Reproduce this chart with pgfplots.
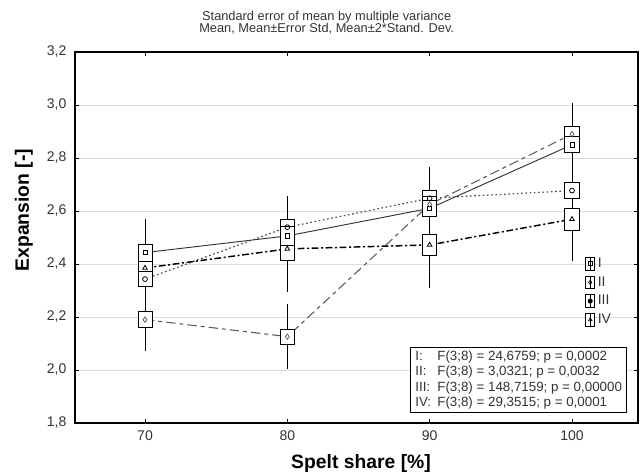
\documentclass[border=0pt]{standalone}
\usepackage{pgfplots}
\pgfplotsset{compat=1.18}
\usepackage{pgfplotstable}
\usepackage{fontspec}
\setmainfont{Liberation Sans}

\definecolor{gridc}{HTML}{DCDCDC}
\definecolor{txtc}{HTML}{333333}

% x = spelt share, m = mean, d = 2*SD (whisker half-length)
\pgfplotstableread{
x m d
70 2.443 0.110
80 2.506 0.130
90 2.610 0.060
100 2.850 0.100
}\seriesI
\pgfplotstableread{
x m d
70 2.190 0.100
80 2.126 0.105
90 2.625 0.090
100 2.890 0.098
}\seriesII
\pgfplotstableread{
x m d
70 2.343 0.100
80 2.539 0.100
90 2.648 0.100
100 2.677 0.100
}\seriesIII
\pgfplotstableread{
x m d
70 2.385 0.143
80 2.457 0.143
90 2.472 0.144
100 2.569 0.141
}\seriesIV

\newcommand{\boxleg}[1]{\addlegendimage{legend image code/.code={
  \draw[black,line width=0.5pt,fill=white] (0pt,-4.8pt) rectangle (6.8pt,4.8pt);
  \draw[black,line width=0.5pt] (3.4pt,-4.8pt)--(3.4pt,4.8pt);
  \draw[black,line width=0.5pt,mark size=1.6pt,mark=#1] plot coordinates {(3.4pt,0pt)};
}}}

\pgfplotsset{
  bx/.style={draw=black, line width=0.6pt, fill=white, forget plot, mark=none},
  wh/.style={forget plot, draw=none, mark=none,
    error bars/.cd, y dir=both, y explicit, error mark=-,
    error bar style={draw=black, line width=0.6pt},
    error mark options={draw=black, line width=0.6pt, mark size=3.6pt}},
}

\begin{document}
\begin{tikzpicture}
\path[use as bounding box] (-56.25pt,-38.25pt) rectangle (424.5pt,317.25pt);
\begin{axis}[
  at={(0,0)}, anchor=south west,
  scale only axis, width=422.25pt, height=278.25pt,
  xmin=65.08, xmax=104.64, ymin=1.8, ymax=3.2,
  xtick={70,80,90,100}, ytick={1.8,2.0,2.2,2.4,2.6,2.8,3.0,3.2},
  ymajorgrids, grid style={gridc, line width=0.6pt},
  axis line style={black, line width=0.8pt},
  tick style={black, line width=0.6pt},
  tick align=inside, major tick length=3pt,
  /pgf/number format/assume math mode=true,
  yticklabel style={/pgf/number format/use comma, /pgf/number format/fixed,
    /pgf/number format/fixed zerofill, /pgf/number format/precision=1, xshift=-3pt},
  ticklabel style={font=\fontsize{10.5}{12}\selectfont, text=txtc},
  xticklabel style={yshift=-2pt},
  xlabel={\textbf{Spelt share [\%]}},
  ylabel={\textbf{Expansion [-]}},
  label style={font=\fontsize{14.5}{16}\selectfont},
  xlabel style={at={(axis description cs:0.508,0)}, anchor=center, yshift=-30.5pt},
  ylabel style={at={(axis description cs:-0.0906,0.574)}, anchor=center},
  legend style={at={(rel axis cs:0.906,0.453)}, anchor=north west, draw=none, fill=none,
    font=\fontsize{10.5}{11}\selectfont, text=txtc, inner sep=0pt, row sep=1.3pt,
    /tikz/every even column/.append style={column sep=2pt}},
  legend cell align=left,
  clip=false,
]
% mean lines
\addplot[forget plot, color=txtc, line width=0.7pt] table[x=x,y=m] {\seriesI};
\addplot[forget plot, color=black!65, line width=0.8pt, dash pattern=on 7pt off 3pt on 3pt off 3pt] table[x=x,y=m] {\seriesII};
\addplot[forget plot, color=black!70, line width=0.9pt, dash pattern=on 1.2pt off 2pt] table[x=x,y=m] {\seriesIII};
\addplot[forget plot, color=black, line width=1.1pt, dash pattern=on 5pt off 2pt on 1.5pt off 2pt] table[x=x,y=m] {\seriesIV};

% whiskers: mean +- 2 SD
\addplot[wh] table[x=x,y=m,y error=d] {\seriesIV};
\addplot[wh] table[x=x,y=m,y error=d] {\seriesIII};
\addplot[wh] table[x=x,y=m,y error=d] {\seriesII};
\addplot[wh] table[x=x,y=m,y error=d] {\seriesI};

% boxes: mean +- SE
% IV
\addplot[bx] coordinates {(69.5,2.345) (70.5,2.345) (70.5,2.425) (69.5,2.425)} -- cycle;
\addplot[bx] coordinates {(79.5,2.415) (80.5,2.415) (80.5,2.499) (79.5,2.499)} -- cycle;
\addplot[bx] coordinates {(89.5,2.432) (90.5,2.432) (90.5,2.512) (89.5,2.512)} -- cycle;
\addplot[bx] coordinates {(99.5,2.528) (100.5,2.528) (100.5,2.610) (99.5,2.610)} -- cycle;
% III
\addplot[bx] coordinates {(69.5,2.315) (70.5,2.315) (70.5,2.371) (69.5,2.371)} -- cycle;
\addplot[bx] coordinates {(79.5,2.509) (80.5,2.509) (80.5,2.569) (79.5,2.569)} -- cycle;
\addplot[bx] coordinates {(89.5,2.618) (90.5,2.618) (90.5,2.678) (89.5,2.678)} -- cycle;
\addplot[bx] coordinates {(99.5,2.647) (100.5,2.647) (100.5,2.707) (99.5,2.707)} -- cycle;
% II
\addplot[bx] coordinates {(69.5,2.160) (70.5,2.160) (70.5,2.220) (69.5,2.220)} -- cycle;
\addplot[bx] coordinates {(79.5,2.098) (80.5,2.098) (80.5,2.154) (79.5,2.154)} -- cycle;
\addplot[bx] coordinates {(89.5,2.595) (90.5,2.595) (90.5,2.655) (89.5,2.655)} -- cycle;
\addplot[bx] coordinates {(99.5,2.862) (100.5,2.862) (100.5,2.918) (99.5,2.918)} -- cycle;
% I
\addplot[bx] coordinates {(69.5,2.411) (70.5,2.411) (70.5,2.475) (69.5,2.475)} -- cycle;
\addplot[bx] coordinates {(79.5,2.471) (80.5,2.471) (80.5,2.541) (79.5,2.541)} -- cycle;
\addplot[bx] coordinates {(89.5,2.580) (90.5,2.580) (90.5,2.640) (89.5,2.640)} -- cycle;
\addplot[bx] coordinates {(99.5,2.820) (100.5,2.820) (100.5,2.880) (99.5,2.880)} -- cycle;

% mean markers
\addplot[forget plot, only marks, mark=square, mark size=1.6pt, mark options={black, line width=0.5pt}] table[x=x,y=m] {\seriesI};
\addplot[forget plot, only marks, mark=diamond, mark size=2pt, mark options={black!70, line width=0.5pt}] table[x=x,y=m] {\seriesII};
\addplot[forget plot, only marks, mark=o, mark size=1.8pt, mark options={black, line width=0.6pt}] table[x=x,y=m] {\seriesIII};
\addplot[forget plot, only marks, mark=triangle, mark size=2pt, mark options={black, line width=0.6pt}] table[x=x,y=m] {\seriesIV};

\boxleg{square}\addlegendentry{I}
\boxleg{diamond}\addlegendentry{II}
\boxleg{*}\addlegendentry{III}
\boxleg{triangle}\addlegendentry{IV}

% title
\node[anchor=base, inner sep=0pt, font=\fontsize{9.6}{10}\selectfont, text=txtc]
  at ([yshift=23.5pt]axis description cs:0.447,1)
  {Standard error of mean by multiple variance};
\node[anchor=base, inner sep=0pt, font=\fontsize{9.6}{10}\selectfont, text=txtc]
  at ([yshift=14.5pt]axis description cs:0.447,1)
  {Mean, Mean±Error Std, Mean±2*Stand. Dev.};

% F-test box
\node[draw=black, line width=0.6pt, fill=white, anchor=south east, inner xsep=3.5pt, inner ysep=2.5pt, align=left,
  font=\fontsize{10}{11.6}\selectfont, text=txtc]
  at ([xshift=-8.25pt, yshift=7.5pt]axis description cs:1,0)
  {\makebox[16.5pt][l]{I:}F(3;8) = 24,6759; p = 0,0002\\
   \makebox[16.5pt][l]{II:}F(3;8) = 3,0321; p = 0,0032\\
   \makebox[16.5pt][l]{III:}F(3;8) = 148,7159; p = 0,00000\\
   \makebox[16.5pt][l]{IV:}F(3;8) = 29,3515; p = 0,0001};
\end{axis}
\end{tikzpicture}
\end{document}
